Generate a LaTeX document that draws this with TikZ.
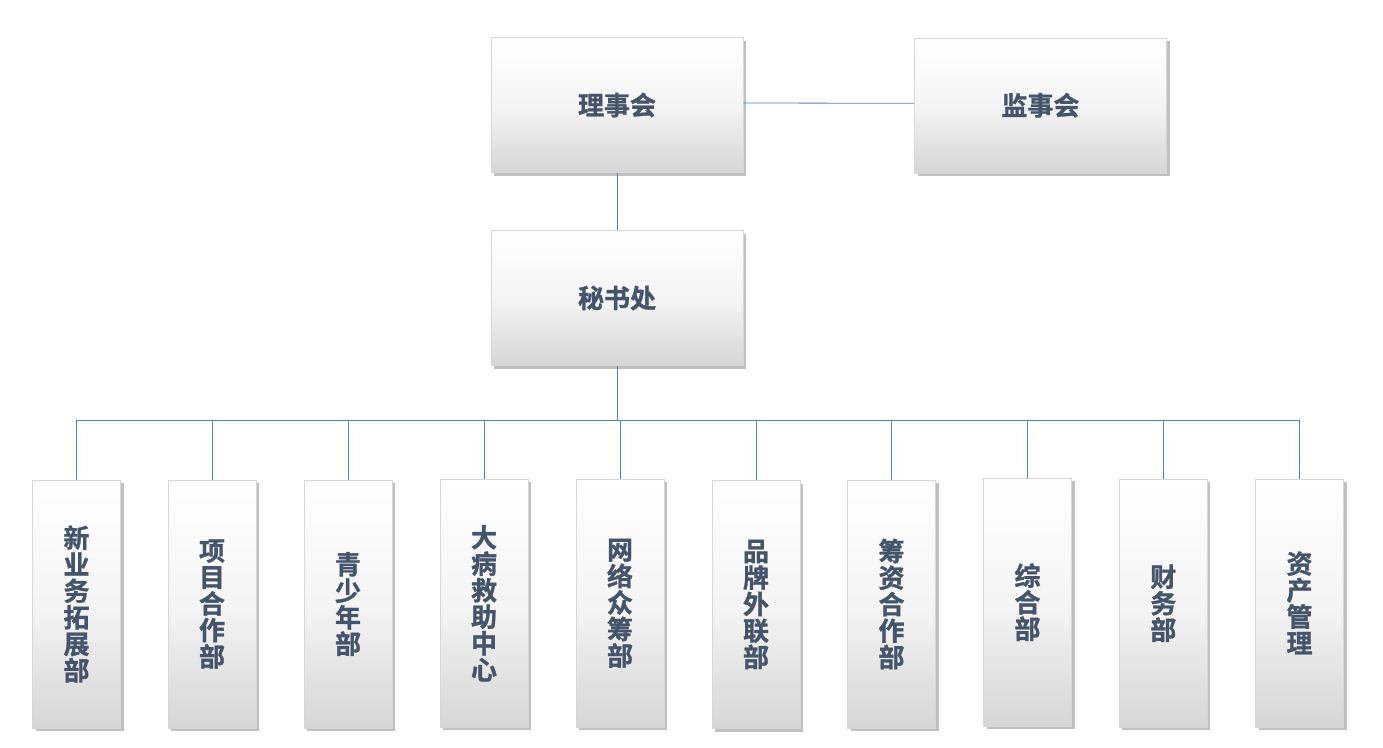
\documentclass[tikz,border=0pt]{standalone}
\usepackage{fontspec}
\newfontfamily\cjk{Noto Sans CJK SC}[BoldFont={Noto Sans CJK SC Bold}, BoldFeatures={FakeBold=1.2}]
\usetikzlibrary{shadows}
\definecolor{txtc}{RGB}{68,84,106}
\definecolor{linec}{RGB}{84,130,184}
\definecolor{bordc}{RGB}{215,215,215}
\definecolor{botc}{RGB}{214,214,214}
\tikzset{
  box/.style={draw=bordc, line width=0.6pt, inner sep=0pt,
    top color=white, bottom color=botc, middle color=white!96!black,
    drop shadow={shadow xshift=3pt, shadow yshift=-3pt, fill=black!55, opacity=0.45},
    text=txtc, font=\cjk\bfseries\fontsize{26}{26.5}\selectfont, align=center},
  topbox/.style={box, minimum width=252pt, minimum height=135pt},
  deptbox/.style={box, minimum width=88pt, minimum height=248pt},
  conn/.style={draw=linec, line width=0.8pt}
}
\begin{document}
\begin{tikzpicture}[x=1pt,y=-1pt]
\useasboundingbox (0,0) rectangle (1383,747);
\node[topbox] (lishi) at (617,105) {理事会};
\node[topbox] (jianshi) at (1040.5,105.3) {监事会};
\node[topbox] (mishu) at (617,298) {秘书处};
\node[deptbox] (d1) at (76.5,604) {新\\业\\务\\拓\\展\\部};
\node[deptbox] (d2) at (212,604) {项\\目\\合\\作\\部};
\node[deptbox] (d3) at (348,604) {青\\少\\年\\部};
\node[deptbox] (d4) at (484,603.3) {大\\病\\救\\助\\中\\心};
\node[deptbox] (d5) at (620,603.3) {网\\络\\众\\筹\\部};
\node[deptbox] (d6) at (756,604.5) {品\\牌\\外\\联\\部};
\node[deptbox] (d7) at (891.5,604) {筹\\资\\合\\作\\部};
\node[deptbox] (d8) at (1027.5,602.2) {综\\合\\部};
\node[deptbox] (d9) at (1163.3,603.3) {财\\务\\部};
\node[deptbox] (d10) at (1299.5,603) {资\\产\\管\\理};
\coordinate (bus) at (617,420);
\draw[conn] ([yshift=2pt]lishi.east) -- ([yshift=2pt]jianshi.west);
\draw[conn] (lishi.south) -- (mishu.north);
\draw[conn] (mishu.south) -- (bus);
\draw[conn] (d1.north |- bus) -- (d10.north |- bus);
\foreach \n in {d1,d2,d3,d4,d5,d6,d7,d8,d9,d10}{
  \draw[conn] (\n.north) -- (\n.north |- bus);
}
\end{tikzpicture}
\end{document}
